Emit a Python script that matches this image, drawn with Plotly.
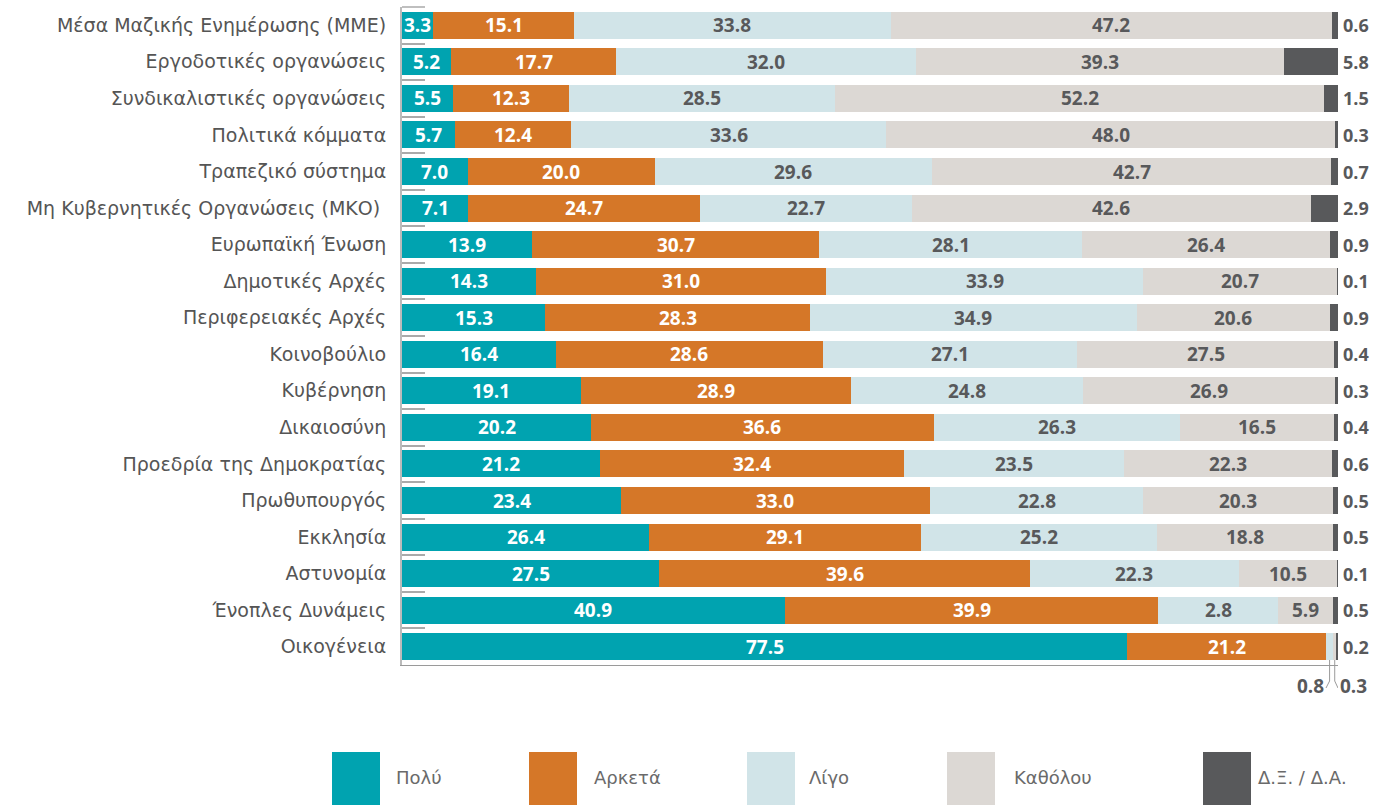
import plotly.graph_objects as go

categories = [
    "Μέσα Μαζικής Ενημέρωσης (ΜΜΕ)",
    "Εργοδοτικές οργανώσεις",
    "Συνδικαλιστικές οργανώσεις",
    "Πολιτικά κόμματα",
    "Τραπεζικό σύστημα",
    "Μη Κυβερνητικές Οργανώσεις (ΜΚΟ) ",
    "Ευρωπαϊκή Ένωση",
    "Δημοτικές Αρχές",
    "Περιφερειακές Αρχές",
    "Κοινοβούλιο",
    "Κυβέρνηση",
    "Δικαιοσύνη",
    "Προεδρία της Δημοκρατίας",
    "Πρωθυπουργός",
    "Εκκλησία",
    "Αστυνομία",
    "Ένοπλες Δυνάμεις",
    "Οικογένεια",
]

poly = [3.3, 5.2, 5.5, 5.7, 7.0, 7.1, 13.9, 14.3, 15.3, 16.4, 19.1, 20.2, 21.2, 23.4, 26.4, 27.5, 40.9, 77.5]
arketa = [15.1, 17.7, 12.3, 12.4, 20.0, 24.7, 30.7, 31.0, 28.3, 28.6, 28.9, 36.6, 32.4, 33.0, 29.1, 39.6, 39.9, 21.2]
ligo = [33.8, 32.0, 28.5, 33.6, 29.6, 22.7, 28.1, 33.9, 34.9, 27.1, 24.8, 26.3, 23.5, 22.8, 25.2, 22.3, 12.8, 0.8]
katholou = [47.2, 39.3, 52.2, 48.0, 42.7, 42.6, 26.4, 20.7, 20.6, 27.5, 26.9, 16.5, 22.3, 20.3, 18.8, 10.5, 5.9, 0.3]
dk = [0.6, 5.8, 1.5, 0.3, 0.7, 2.9, 0.9, 0.1, 0.9, 0.4, 0.3, 0.4, 0.6, 0.5, 0.5, 0.1, 0.5, 0.2]

# printed labels as shown in the source (one label differs from bar length)
ligo_text = ["33.8", "32.0", "28.5", "33.6", "29.6", "22.7", "28.1", "33.9", "34.9", "27.1",
             "24.8", "26.3", "23.5", "22.8", "25.2", "22.3", "2.8", ""]
katholou_text = ["47.2", "39.3", "52.2", "48.0", "42.7", "42.6", "26.4", "20.7", "20.6", "27.5",
                 "26.9", "16.5", "22.3", "20.3", "18.8", "10.5", "5.9", ""]

series_names = ["Πολύ", "Αρκετά", "Λίγο", "Καθόλου", "Δ.Ξ. / Δ.Α."]
colors = ["#00A3B0", "#D57728", "#D1E4E8", "#DCD8D4", "#58595B"]

FONT = "Open Sans"
LFONT = "DejaVu Sans"
W, H = 1374, 805
L, R, T, B = 402, 1338, 7, 665

def px(x):
    return (x - L) / (R - L)

def py(y):
    return (B - y) / (B - T)

fig = go.Figure()
all_series = [poly, arketa, ligo, katholou, dk]
for name, vals, col in zip(series_names, all_series, colors):
    fig.add_trace(go.Bar(
        y=categories, x=vals, orientation="h", name=name,
        marker=dict(color=col, line=dict(width=0)),
        width=0.74, showlegend=False, hoverinfo="x+name",
    ))

annotations = []
text_sets = [
    ([f"{v:.1f}" for v in poly], "white"),
    ([f"{v:.1f}" for v in arketa], "white"),
    (ligo_text, "#58595B"),
    (katholou_text, "#58595B"),
]
for i, cat in enumerate(categories):
    cum = 0.0
    for s, (texts, tcol) in enumerate(text_sets):
        v = all_series[s][i]
        if texts[i]:
            annotations.append(dict(
                x=cum + v / 2, y=cat, xref="x", yref="y", text=f"<b>{texts[i]}</b>",
                showarrow=False, font=dict(family=FONT, size=19, color=tcol),
                xanchor="center", yanchor="middle",
            ))
        cum += v
    annotations.append(dict(
        x=100, y=cat, xref="x", yref="y", text=f"<b>{dk[i]:.1f}</b>", xshift=3,
        showarrow=False, font=dict(family=FONT, size=18, color="#58595B"),
        xanchor="left", yanchor="middle",
    ))

# small values of the last row placed below
last = len(categories) - 1
c_ligo = poly[last] + arketa[last] + ligo[last] / 2
c_kath = poly[last] + arketa[last] + ligo[last] + katholou[last] / 2
annotations.append(dict(x=c_ligo, y=py(686), xref="x", yref="paper", text=f"<b>{ligo[last]:.1f}</b>",
                        showarrow=False, xanchor="right", yanchor="middle", xshift=-4,
                        font=dict(family=FONT, size=19, color="#58595B")))
annotations.append(dict(x=c_kath, y=py(686), xref="x", yref="paper", text=f"<b>{katholou[last]:.1f}</b>",
                        showarrow=False, xanchor="left", yanchor="middle", xshift=3,
                        font=dict(family=FONT, size=19, color="#58595B")))

shapes = []
x_to_data = lambda pxl: (pxl - L) / (R - L) * 100
shapes.append(dict(type="path", xref="x", yref="paper",
                   path=f"M {c_ligo},{py(660)} L {c_ligo},{py(681)} L {x_to_data(1326)},{py(688)}",
                   line=dict(color="#9A9A9A", width=1)))
shapes.append(dict(type="path", xref="x", yref="paper",
                   path=f"M {c_kath},{py(660)} L {c_kath},{py(681)} L {x_to_data(1338)},{py(688)}",
                   line=dict(color="#9A9A9A", width=1)))
# top boundary tick
shapes.append(dict(type="line", xref="paper", yref="paper", x0=0, x1=px(425), y0=1, y1=1,
                   line=dict(color="#AAAAAA", width=1.5)))

# legend
sq_x = [332, 529, 747, 947, 1203]
tx_x = [394, 592, 807, 1012, 1256]
for name, col, sx, tx in zip(series_names, colors, sq_x, tx_x):
    shapes.append(dict(type="rect", xref="paper", yref="paper",
                       x0=px(sx), x1=px(sx + 48), y0=py(752), y1=py(812),
                       fillcolor=col, line=dict(width=0)))
    annotations.append(dict(x=px(tx), y=py(777), xref="paper", yref="paper", text=name,
                            showarrow=False, xanchor="left", yanchor="middle",
                            font=dict(family=LFONT, size=18, color="#6A6A6A")))

fig.update_layout(
    barmode="stack",
    width=W, height=H,
    margin=dict(l=L, r=W - R, t=T, b=H - B, pad=0),
    plot_bgcolor="white", paper_bgcolor="white",
    annotations=annotations, shapes=shapes,
    font=dict(family=FONT, color="#555555"),
    xaxis=dict(range=[0, 100], showgrid=False, zeroline=False, showticklabels=False,
               showline=True, linecolor="#9A9A9A", linewidth=1, ticks="", fixedrange=True),
    yaxis=dict(autorange=False, range=[len(categories) - 0.5, -0.5], type="category",
               showgrid=False, zeroline=False, showline=True, linecolor="#BBBBBB", linewidth=2,
               ticks="inside", tickson="boundaries", ticklen=23, tickcolor="#AAAAAA", tickwidth=1.5,
               tickfont=dict(family=LFONT, size=19, color="#555555"), ticklabelstandoff=10,
               fixedrange=True),
)

fig.write_html("out.html", config={"displayModeBar": False},
               post_script="document.body.style.margin='0';document.body.style.overflow='hidden';")
